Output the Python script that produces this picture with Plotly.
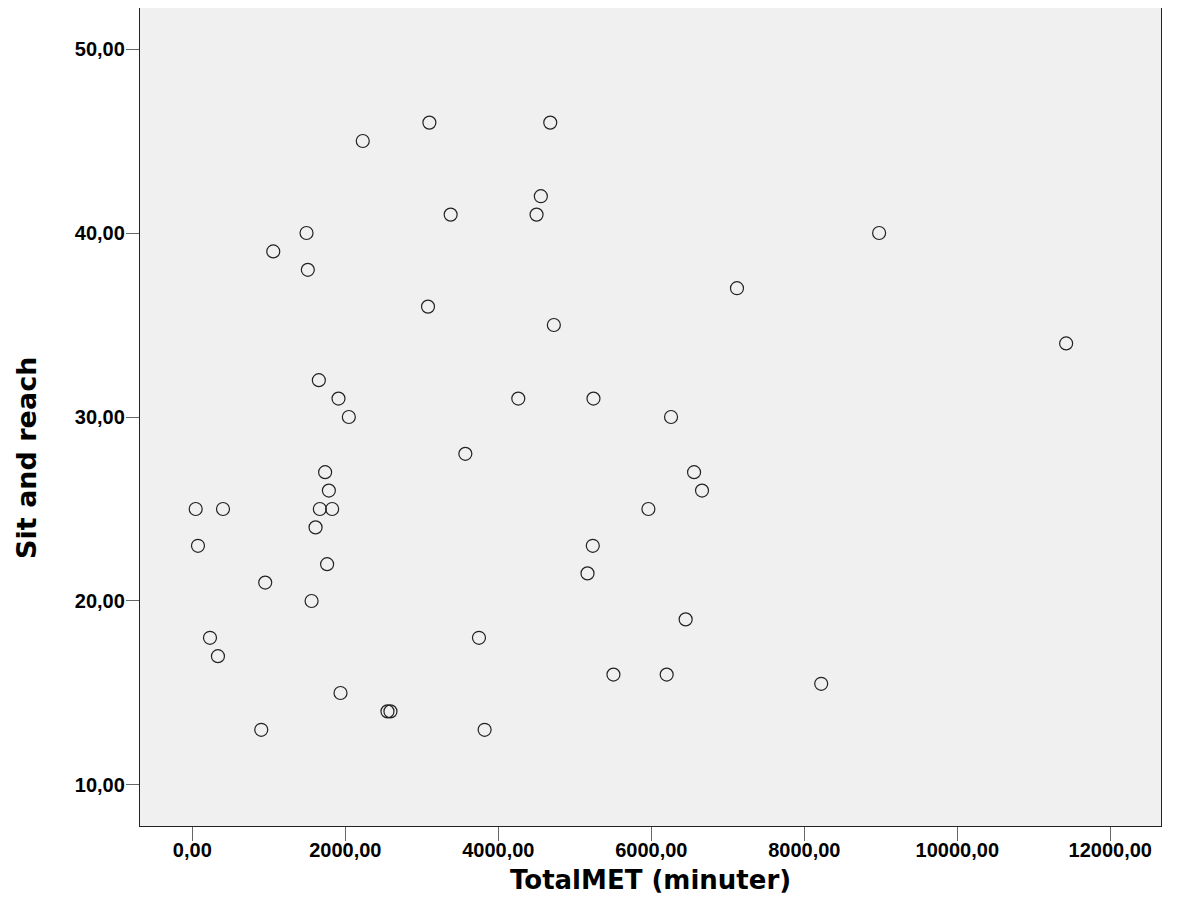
import plotly.graph_objects as go

total_met = [3099, 4679, 2228, 4556, 3377, 4500, 1493, 8978, 1058, 1510,
             7120, 3081, 4726, 11423, 1654, 1911, 4261, 5244, 2046, 6258,
             3569, 1736, 6559, 1785, 6663, 44, 401, 1667, 1828, 5962,
             1611, 74, 5235, 1762, 953, 5166, 1559, 6449, 231, 3747,
             335, 5505, 6201, 8221, 1937, 2551, 2590, 901, 3821]
sit_reach = [46, 46, 45, 42, 41, 41, 40, 40, 39, 38,
             37, 36, 35, 34, 32, 31, 31, 31, 30, 30,
             28, 27, 27, 26, 26, 25, 25, 25, 25, 25,
             24, 23, 23, 22, 21, 21.5, 20, 19, 18, 18,
             17, 16, 16, 15.5, 15, 14, 14, 13, 13]

x_ticks = [0, 2000, 4000, 6000, 8000, 10000, 12000]
x_tick_text = ["0,00", "2000,00", "4000,00", "6000,00", "8000,00", "10000,00", "12000,00"]
y_ticks = [10, 20, 30, 40, 50]
y_tick_text = ["10,00", "20,00", "30,00", "40,00", "50,00"]

x_title = "TotalMET (minuter)"
y_title = "Sit and reach"

fig = go.Figure()
fig.add_trace(go.Scatter(
    x=total_met, y=sit_reach, mode="markers",
    marker=dict(symbol="circle-open", size=13, color="#222222",
                line=dict(width=1.2, color="#222222")),
    hoverinfo="x+y", showlegend=False,
))

tick_font = dict(family="Liberation Sans, Arial, sans-serif", size=20, color="#000000", weight="bold")
title_font_x = dict(family="DejaVu Sans, sans-serif", size=26, color="#000000", weight="bold")
title_font_y = dict(family="DejaVu Sans, sans-serif", size=27, color="#000000", weight="bold")

fig.update_layout(
    width=1161, height=898,
    margin=dict(l=132, r=8, t=0, b=80),
    paper_bgcolor="#ffffff",
    plot_bgcolor="#f0f0f0",
    xaxis=dict(range=[-684, 12663], tickmode="array", tickvals=x_ticks, ticktext=x_tick_text,
               ticks="outside", ticklen=14, tickwidth=1, tickcolor="#666666",
               ticklabelstandoff=-8,
               showgrid=False, zeroline=False, showline=True, linecolor="#222222",
               linewidth=1.3, mirror=True, tickfont=tick_font),
    yaxis=dict(range=[7.77, 52.23], tickmode="array", tickvals=y_ticks, ticktext=y_tick_text,
               ticks="outside", ticklen=13, tickwidth=1, tickcolor="#666666",
               ticklabelstandoff=-3,
               showgrid=False, zeroline=False, showline=True, linecolor="#222222",
               linewidth=1.3, mirror=True, tickfont=tick_font),
    annotations=[
        dict(text=x_title, xref="paper", yref="paper",
             x=0.5, y=-0.066, xanchor="center", yanchor="middle",
             showarrow=False, font=title_font_x),
        dict(text=y_title, xref="paper", yref="paper",
             x=-0.1107, y=0.45, xanchor="center", yanchor="middle", textangle=-90,
             showarrow=False, font=title_font_y),
    ],
)

fig.write_html("out.html")
